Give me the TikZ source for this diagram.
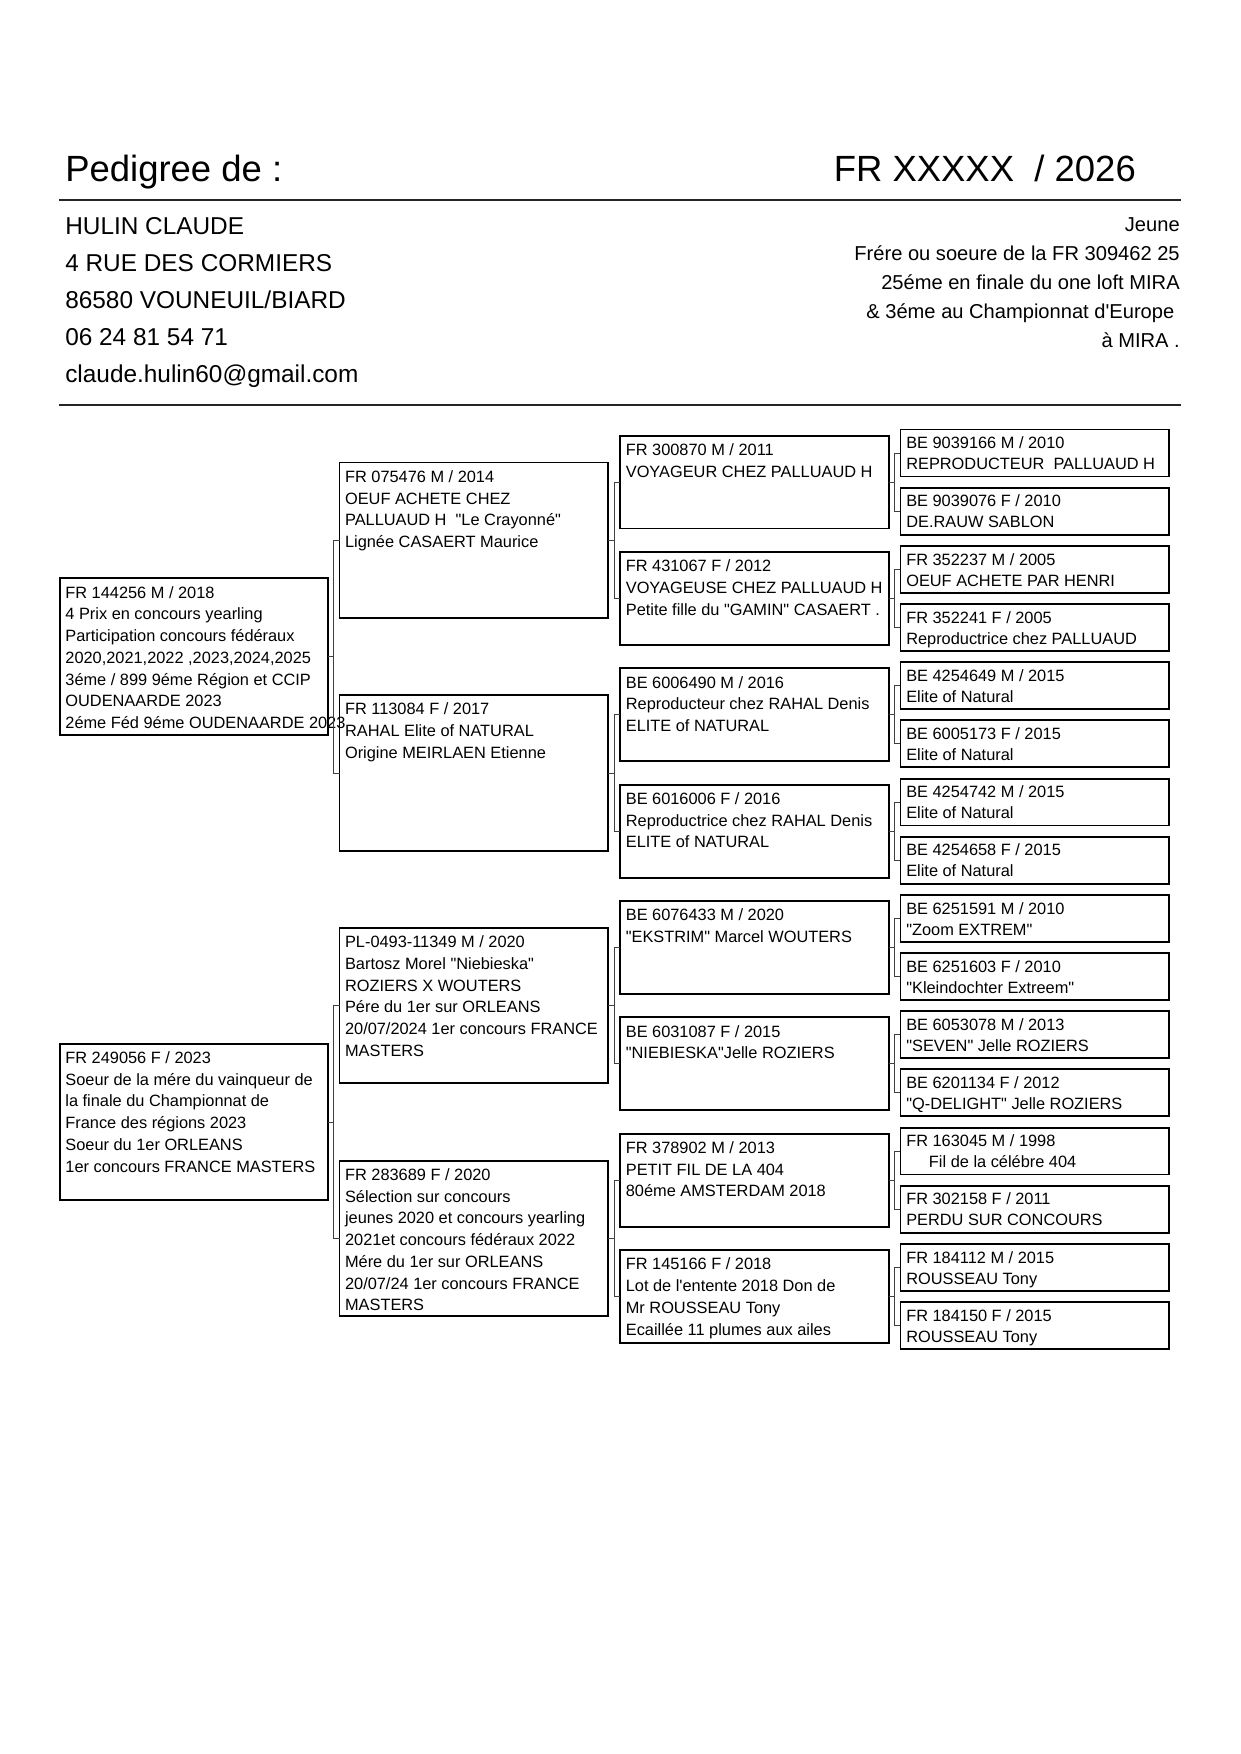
\documentclass[tikz,border=0pt]{standalone}
\usepackage{fontspec}
\setmainfont{Liberation Sans}[Ligatures=TeXOff]
\usetikzlibrary{calc}
\begin{document}
\begin{tikzpicture}[x=0.53677pt, y=-0.53677pt,
  box/.style={draw=black, line width=0.9pt, inner sep=0pt, outer sep=0pt, anchor=north west},
  boxA/.style={box, minimum width=128.82pt, minimum height=75.15pt},
  boxB/.style={box, minimum width=128.82pt, minimum height=74.61pt},
  boxC/.style={box, minimum width=128.82pt, minimum height=44.55pt},
  boxD/.style={box, minimum width=128.82pt, minimum height=22.54pt},
  txt/.style={anchor=north west, inner sep=0pt, align=left, font=\fontsize{7.85pt}{10.45pt}\selectfont},
  txtD/.style={txt, font=\fontsize{7.85pt}{10.1pt}\selectfont},
  conn/.style={line width=0.45pt, draw=black!75},
  rule/.style={line width=0.9pt, draw=black!85}]
\useasboundingbox (0,0) rectangle (1109,1568);

% ---------- header ----------
\node[anchor=base west, inner sep=0pt, font=\fontsize{17.5pt}{21pt}\selectfont] (title) at (58,162.4) {Pedigree de :};
\node[anchor=base west, inner sep=0pt, font=\fontsize{17.5pt}{21pt}\selectfont] (ring) at (745,162.4) {FR XXXXX~ / 2026};
\coordinate (r1a) at (53,178.7); \coordinate (r1b) at (1056,178.7);
\draw[rule] (r1a) -- (r1b);
\node[anchor=north west, inner sep=0pt, align=left, font=\fontsize{11.7pt}{17.7pt}\selectfont] (addr) at (58,194)
  {HULIN CLAUDE\\4 RUE DES CORMIERS\\86580 VOUNEUIL/BIARD\\06 24 81 54 71\\claude.hulin60@gmail.com};
\node[anchor=north east, inner sep=0pt, align=right, font=\fontsize{9.65pt}{13.96pt}\selectfont] (info) at (1055,194)
  {Jeune\\Frére ou soeure de la FR 309462 25\\25éme en finale du one loft MIRA\\\& 3éme au Championnat d'Europe\kern2.6pt\\à MIRA .};
\coordinate (r2a) at (53,362); \coordinate (r2b) at (1056,362);
\draw[rule] (r2a) -- (r2b);

% ---------- generation 1 ----------
\node[boxA] (a1) at (53.5,517) {};
\node[boxA] (a2) at (53.5,933) {};
% ---------- generation 2 ----------
\node[boxB] (b1) at (303.5,413.5) {};
\node[boxB] (b2) at (303.5,621.5) {};
\node[boxB] (b3) at (303.5,829.5) {};
\node[boxB] (b4) at (303.5,1037.5) {};
% ---------- generation 3 ----------
\foreach \k in {1,...,8} {
  \pgfmathsetmacro\yy{389.5+104*(\k-1)}
  \node[boxC] (c\k) at (554.5,\yy) {};
}
% ---------- generation 4 ----------
\foreach \k in {1,...,16} {
  \pgfmathsetmacro\yy{384+52*(\k-1)}
  \node[boxD] (d\k) at (805,\yy) {};
}

% ---------- texts ----------
\node[txt] (ta1) at ($(a1.north west)+(4.6,3.6)$) {\strut FR 144256 M / 2018\\4 Prix en concours yearling\\Participation concours fédéraux\\2020,2021,2022 ,2023,2024,2025\\3éme / 899 9éme Région et CCIP\\OUDENAARDE 2023\\2éme Féd 9éme OUDENAARDE 2023};
\node[txt] (ta2) at ($(a2.north west)+(4.6,3.6)$) {\strut FR 249056 F / 2023\\Soeur de la mére du vainqueur de\\la finale du Championnat de\\France des régions 2023\\Soeur du 1er ORLEANS\\1er concours FRANCE MASTERS};

\node[txt] (tb1) at ($(b1.north west)+(4.6,3.6)$) {\strut FR 075476 M / 2014\\OEUF ACHETE CHEZ\\PALLUAUD H~ "Le Crayonné"\\Lignée CASAERT Maurice};
\node[txt] (tb2) at ($(b2.north west)+(4.6,3.6)$) {\strut FR 113084 F / 2017\\RAHAL Elite of NATURAL\\Origine MEIRLAEN Etienne};
\node[txt] (tb3) at ($(b3.north west)+(4.6,3.6)$) {\strut PL-0493-11349 M / 2020\\Bartosz Morel "Niebieska"\\ROZIERS X WOUTERS\\Pére du 1er sur ORLEANS\\20/07/2024 1er concours FRANCE\\MASTERS};
\node[txt] (tb4) at ($(b4.north west)+(4.6,3.6)$) {\strut FR 283689 F / 2020\\Sélection sur concours\\jeunes 2020 et concours yearling\\2021et concours fédéraux 2022\\Mére du 1er sur ORLEANS\\20/07/24 1er concours FRANCE\\MASTERS};

\node[txt] (tc1) at ($(c1.north west)+(4.6,3.6)$) {\strut FR 300870 M / 2011\\VOYAGEUR CHEZ PALLUAUD H};
\node[txt] (tc2) at ($(c2.north west)+(4.6,3.6)$) {\strut FR 431067 F / 2012\\VOYAGEUSE CHEZ PALLUAUD H\\Petite fille du "GAMIN" CASAERT .};
\node[txt] (tc3) at ($(c3.north west)+(4.6,3.6)$) {\strut BE 6006490 M / 2016\\Reproducteur chez RAHAL Denis\\ELITE of NATURAL};
\node[txt] (tc4) at ($(c4.north west)+(4.6,3.6)$) {\strut BE 6016006 F / 2016\\Reproductrice chez RAHAL Denis\\ELITE of NATURAL};
\node[txt] (tc5) at ($(c5.north west)+(4.6,3.6)$) {\strut BE 6076433 M / 2020\\"EKSTRIM" Marcel WOUTERS};
\node[txt] (tc6) at ($(c6.north west)+(4.6,3.6)$) {\strut BE 6031087 F / 2015\\"NIEBIESKA"Jelle ROZIERS};
\node[txt] (tc7) at ($(c7.north west)+(4.6,3.6)$) {\strut FR 378902 M / 2013\\PETIT FIL DE LA 404\\80éme AMSTERDAM 2018};
\node[txt] (tc8) at ($(c8.north west)+(4.6,3.6)$) {\strut FR 145166 F / 2018\\Lot de l'entente 2018 Don de\\Mr ROUSSEAU Tony\\Ecaillée 11 plumes aux ailes};

\node[txtD] (td1) at ($(d1.north west)+(4.8,3.6)$) {\strut BE 9039166 M / 2010\\REPRODUCTEUR~ PALLUAUD H};
\node[txtD] (td2) at ($(d2.north west)+(4.8,3.6)$) {\strut BE 9039076 F / 2010\\DE.RAUW SABLON};
\node[txtD] (td3) at ($(d3.north west)+(4.8,3.6)$) {\strut FR 352237 M / 2005\\OEUF ACHETE PAR HENRI};
\node[txtD] (td4) at ($(d4.north west)+(4.8,3.6)$) {\strut FR 352241 F / 2005\\Reproductrice chez PALLUAUD};
\node[txtD] (td5) at ($(d5.north west)+(4.8,3.6)$) {\strut BE 4254649 M / 2015\\Elite of Natural};
\node[txtD] (td6) at ($(d6.north west)+(4.8,3.6)$) {\strut BE 6005173 F / 2015\\Elite of Natural};
\node[txtD] (td7) at ($(d7.north west)+(4.8,3.6)$) {\strut BE 4254742 M / 2015\\Elite of Natural};
\node[txtD] (td8) at ($(d8.north west)+(4.8,3.6)$) {\strut BE 4254658 F / 2015\\Elite of Natural};
\node[txtD] (td9) at ($(d9.north west)+(4.8,3.6)$) {\strut BE 6251591 M / 2010\\"Zoom EXTREM"};
\node[txtD] (td10) at ($(d10.north west)+(4.8,3.6)$) {\strut BE 6251603 F / 2010\\"Kleindochter Extreem"};
\node[txtD] (td11) at ($(d11.north west)+(4.8,3.6)$) {\strut BE 6053078 M / 2013\\"SEVEN" Jelle ROZIERS};
\node[txtD] (td12) at ($(d12.north west)+(4.8,3.6)$) {\strut BE 6201134 F / 2012\\"Q-DELIGHT" Jelle ROZIERS};
\node[txtD] (td13) at ($(d13.north west)+(4.8,3.6)$) {\strut FR 163045 M / 1998\\\hspace*{10.9pt}Fil de la célébre 404};
\node[txtD] (td14) at ($(d14.north west)+(4.8,3.6)$) {\strut FR 302158 F / 2011\\PERDU SUR CONCOURS};
\node[txtD] (td15) at ($(d15.north west)+(4.8,3.6)$) {\strut FR 184112 M / 2015\\ROUSSEAU Tony};
\node[txtD] (td16) at ($(d16.north west)+(4.8,3.6)$) {\strut FR 184150 F / 2015\\ROUSSEAU Tony};

% ---------- connectors ----------
\foreach \p in {1,2} {
  \pgfmathtruncatemacro\q{2*\p-1}\pgfmathtruncatemacro\r{2*\p}
  \coordinate (ja\p) at ($(a\p.east)+(5,0)$);
  \draw[conn] (a\p.east) -- (ja\p);
  \draw[conn] (b\q.west) -| (ja\p) |- (b\r.west);
}
\foreach \p in {1,...,4} {
  \pgfmathtruncatemacro\q{2*\p-1}\pgfmathtruncatemacro\r{2*\p}
  \coordinate (jb\p) at ($(b\p.east)+(5.5,0)$);
  \draw[conn] (b\p.east) -- (jb\p);
  \draw[conn] (c\q.west) -| (jb\p) |- (c\r.west);
}
\foreach \p in {1,...,8} {
  \pgfmathtruncatemacro\q{2*\p-1}\pgfmathtruncatemacro\r{2*\p}
  \coordinate (jc\p) at ($(c\p.east)+(5.25,0)$);
  \draw[conn] (c\p.east) -- (jc\p);
  \draw[conn] (d\q.west) -| (jc\p) |- (d\r.west);
}
\end{tikzpicture}
\end{document}
